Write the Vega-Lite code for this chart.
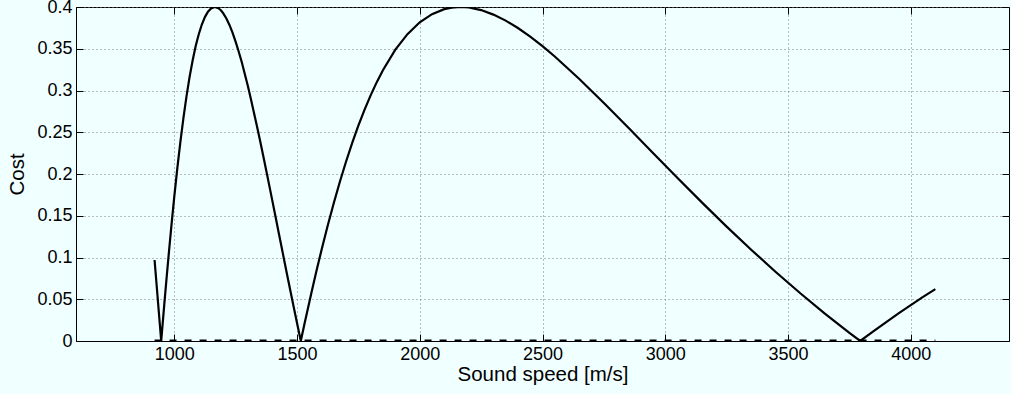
{
  "$schema": "https://vega.github.io/schema/vega-lite/v6.json",
  "width": 933,
  "height": 334,
  "autosize": {"type": "none"},
  "padding": {"left": 76, "top": 7, "right": 2, "bottom": 53},
  "background": "#f0ffff",
  "config": {
    "view": {"stroke": "#000", "strokeWidth": 1},
    "font": "Liberation Sans",
    "axis": {
      "domainColor": "#000",
      "tickColor": "#000",
      "labelColor": "#000",
      "titleColor": "#000",
      "labelFontSize": 18,
      "titleFontSize": 20.5,
      "titleFontWeight": "normal",
      "labelFlush": false
    }
  },
  "datasets": {
    "curve": [
      {"c": 920, "y": 0.097},
      {"c": 947, "y": 0},
      {"c": 960, "y": 0.0454},
      {"c": 970, "y": 0.079},
      {"c": 980, "y": 0.1114},
      {"c": 990, "y": 0.1424},
      {"c": 1000, "y": 0.1719},
      {"c": 1012.5, "y": 0.2063},
      {"c": 1025, "y": 0.2381},
      {"c": 1037.5, "y": 0.2669},
      {"c": 1050, "y": 0.293},
      {"c": 1062.5, "y": 0.316},
      {"c": 1075, "y": 0.336},
      {"c": 1087.5, "y": 0.3532},
      {"c": 1100, "y": 0.3674},
      {"c": 1112.5, "y": 0.379},
      {"c": 1125, "y": 0.3879},
      {"c": 1137.5, "y": 0.3943},
      {"c": 1150, "y": 0.3983},
      {"c": 1165, "y": 0.4},
      {"c": 1180, "y": 0.3986},
      {"c": 1190, "y": 0.3961},
      {"c": 1200, "y": 0.3924},
      {"c": 1212.5, "y": 0.3862},
      {"c": 1225, "y": 0.3785},
      {"c": 1237.5, "y": 0.3692},
      {"c": 1250, "y": 0.3586},
      {"c": 1262.5, "y": 0.3467},
      {"c": 1275, "y": 0.3341},
      {"c": 1287.5, "y": 0.3198},
      {"c": 1300, "y": 0.3054},
      {"c": 1312.5, "y": 0.2896},
      {"c": 1325, "y": 0.273},
      {"c": 1337.5, "y": 0.2566},
      {"c": 1350, "y": 0.2395},
      {"c": 1362.5, "y": 0.2219},
      {"c": 1375, "y": 0.204},
      {"c": 1387.5, "y": 0.1858},
      {"c": 1400, "y": 0.1675},
      {"c": 1412.5, "y": 0.1491},
      {"c": 1425, "y": 0.1306},
      {"c": 1437.5, "y": 0.1122},
      {"c": 1450, "y": 0.0938},
      {"c": 1462.5, "y": 0.0755},
      {"c": 1475, "y": 0.0574},
      {"c": 1487.5, "y": 0.0395},
      {"c": 1500, "y": 0.0218},
      {"c": 1515.6, "y": 0},
      {"c": 1530, "y": 0.0197},
      {"c": 1560, "y": 0.0593},
      {"c": 1580, "y": 0.0846},
      {"c": 1600, "y": 0.109},
      {"c": 1625, "y": 0.138},
      {"c": 1650, "y": 0.1653},
      {"c": 1675, "y": 0.191},
      {"c": 1700, "y": 0.215},
      {"c": 1725, "y": 0.2373},
      {"c": 1750, "y": 0.2579},
      {"c": 1775, "y": 0.2769},
      {"c": 1800, "y": 0.2942},
      {"c": 1825, "y": 0.31},
      {"c": 1850, "y": 0.3243},
      {"c": 1900, "y": 0.3486},
      {"c": 1950, "y": 0.3675},
      {"c": 2000, "y": 0.3817},
      {"c": 2050, "y": 0.3914},
      {"c": 2100, "y": 0.3974},
      {"c": 2130, "y": 0.3992},
      {"c": 2165, "y": 0.4},
      {"c": 2200, "y": 0.3994},
      {"c": 2250, "y": 0.3963},
      {"c": 2300, "y": 0.3909},
      {"c": 2350, "y": 0.3837},
      {"c": 2400, "y": 0.3748},
      {"c": 2450, "y": 0.3644},
      {"c": 2500, "y": 0.3531},
      {"c": 2550, "y": 0.3407},
      {"c": 2650, "y": 0.3138},
      {"c": 2750, "y": 0.285},
      {"c": 2850, "y": 0.2553},
      {"c": 2950, "y": 0.2251},
      {"c": 3050, "y": 0.1951},
      {"c": 3150, "y": 0.1657},
      {"c": 3250, "y": 0.137},
      {"c": 3350, "y": 0.1093},
      {"c": 3450, "y": 0.0827},
      {"c": 3550, "y": 0.0572},
      {"c": 3650, "y": 0.0329},
      {"c": 3750, "y": 0.0097},
      {"c": 3794, "y": 0},
      {"c": 3850, "y": 0.0122},
      {"c": 3950, "y": 0.0331},
      {"c": 4050, "y": 0.0528},
      {"c": 4100, "y": 0.0622}
    ],
    "dash": [
      {"c": 920, "y": 0},
      {"c": 4100, "y": 0}
    ]
  },
  "layer": [
    {
      "data": {"name": "dash"},
      "mark": {"type": "line", "color": "#000", "strokeWidth": 3, "strokeDash": [7, 8], "clip": true},
      "encoding": {
        "x": {
          "field": "c", "type": "quantitative",
          "scale": {"domain": [600, 4400], "nice": false, "zero": false},
          "axis": {"orient": "top", "values": [1000, 1500, 2000, 2500, 3000, 3500, 4000], "labels": false, "grid": false, "domain": false, "tickSize": -7, "title": null}
        },
        "y": {
          "field": "y", "type": "quantitative",
          "scale": {"domain": [0, 0.4], "nice": false},
          "axis": {"orient": "right", "values": [0, 0.05, 0.1, 0.15, 0.2, 0.25, 0.3, 0.35, 0.4], "labels": false, "grid": false, "domain": false, "tickSize": -7, "title": null}
        }
      }
    },
    {
      "data": {"name": "curve"},
      "mark": {"type": "line", "color": "#000", "strokeWidth": 2.2, "clip": true},
      "encoding": {
        "x": {
          "field": "c", "type": "quantitative",
          "axis": {"orient": "bottom", "values": [1000, 1500, 2000, 2500, 3000, 3500, 4000], "format": "d", "grid": true, "gridDash": [1, 3], "gridColor": "#777", "gridOpacity": 1, "tickSize": -7, "labelPadding": 11, "title": "Sound speed [m/s]", "titlePadding": 1}
        },
        "y": {
          "field": "y", "type": "quantitative",
          "axis": {"orient": "left", "values": [0, 0.05, 0.1, 0.15, 0.2, 0.25, 0.3, 0.35, 0.4], "format": "~g", "grid": true, "gridDash": [1, 3], "gridColor": "#777", "gridOpacity": 1, "tickSize": -7, "labelPadding": 11, "title": "Cost", "titlePadding": 9}
        }
      }
    }
  ]
}
